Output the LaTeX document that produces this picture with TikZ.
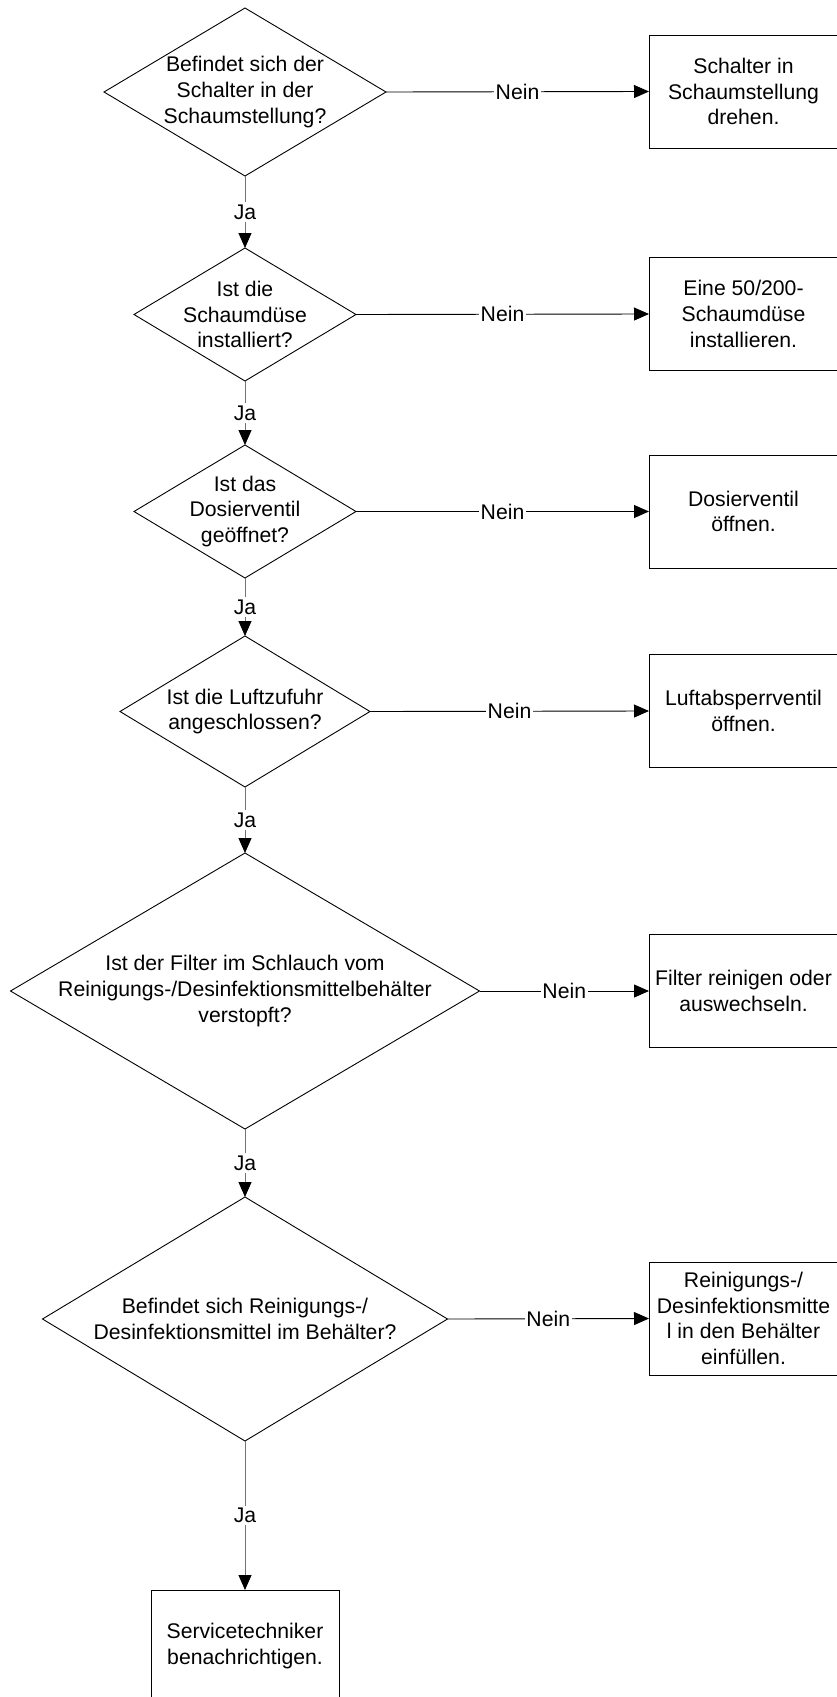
\documentclass[tikz,border=0pt]{standalone}
\usepackage{fontspec}
\setmainfont{Liberation Sans}
\usetikzlibrary{shapes.geometric,arrows.meta}

\begin{document}
\begin{tikzpicture}[x=1pt,y=-1pt,
  every node/.style={font=\fontsize{21.2pt}{25.8pt}\selectfont},
  decision/.style={diamond,draw=black,line width=0.9pt,inner sep=0pt,outer sep=0pt},
  qtext/.style={align=center,inner sep=0pt},
  action/.style={rectangle,draw=black,line width=0.9pt,align=center,inner sep=0pt,outer sep=0pt,
                 minimum width=189pt,minimum height=113pt},
  yesline/.style={draw=black!55,line width=0.9pt,-{Triangle[length=15pt,width=13pt,color=black]}},
  noline/.style={draw=black,line width=0.9pt,-{Triangle[length=15pt,width=13pt,color=black]}},
  yeslbl/.style={fill=white,inner xsep=1pt,inner ysep=2.5pt},
  nolbl/.style={fill=white,inner xsep=1.5pt,inner ysep=1pt}]

\useasboundingbox (0,0) rectangle (837,1697);

% decision diamonds
\node[decision,minimum width=282pt,minimum height=168pt] (d1) at (245,92) {};
\node[qtext] (q1) at (d1) {Befindet sich der\\Schalter in der\\Schaumstellung?};

\node[decision,minimum width=222pt,minimum height=133pt] (d2) at (245,314.5) {};
\node[qtext] (q2) at (d2) {Ist die\\Schaumdüse\\installiert?};

\node[decision,minimum width=222pt,minimum height=133pt] (d3) at (245,511.5) {};
\node[qtext] (q3) at (d3) {Ist das\\Dosierventil\\geöffnet?};

\node[decision,minimum width=250pt,minimum height=151pt] (d4) at (245,711.5) {};
\node[qtext] (q4) at (d4) {Ist die Luftzufuhr\\angeschlossen?};

\node[decision,minimum width=469pt,minimum height=276pt] (d5) at (245,991) {};
\node[qtext] (q5) at (d5) {Ist der Filter im Schlauch vom\\Reinigungs-/Desinfektionsmittelbehälter\\verstopft?};

\node[decision,minimum width=405pt,minimum height=244pt] (d6) at (245,1319) {};
\node[qtext] (q6) at (d6) {Befindet sich Reinigungs-/\\Desinfektionsmittel im Behälter?};

% action boxes
\node[action] (b1) at (743.5,91.5) {Schalter in\\Schaumstellung\\drehen.};
\node[action] (b2) at (743.5,314) {Eine 50/200-\\Schaumdüse\\installieren.};
\node[action] (b3) at (743.5,511.5) {Dosierventil\\öffnen.};
\node[action] (b4) at (743.5,711) {Luftabsperrventil\\öffnen.};
\node[action] (b5) at (743.5,991) {Filter reinigen oder\\auswechseln.};
\node[action] (b6) at (743.5,1318.5) {Reinigungs-/\\Desinfektionsmitte\\l in den Behälter\\einfüllen.};
\node[action,minimum width=188pt,minimum height=112pt] (b7) at (245,1646) {Servicetechniker\\benachrichtigen.};

% "Ja" connectors
\draw[yesline] (d1.south) -- node[yeslbl] (j1) {Ja} (d2.north);
\draw[yesline] (d2.south) -- node[yeslbl] (j2) {Ja} (d3.north);
\draw[yesline] (d3.south) -- node[yeslbl] (j3) {Ja} (d4.north);
\draw[yesline] (d4.south) -- node[yeslbl] (j4) {Ja} (d5.north);
\draw[yesline] (d5.south) -- node[yeslbl] (j5) {Ja} (d6.north);
\draw[yesline] (d6.south) -- node[yeslbl] (j6) {Ja} (b7.north);

% "Nein" connectors
\draw[noline] (d1.east) -- node[nolbl] (n1) {Nein} (b1.west);
\draw[noline] (d2.east) -- node[nolbl] (n2) {Nein} (b2.west);
\draw[noline] (d3.east) -- node[nolbl] (n3) {Nein} (b3.west);
\draw[noline] (d4.east) -- node[nolbl] (n4) {Nein} (b4.west);
\draw[noline] (d5.east) -- node[nolbl] (n5) {Nein} (b5.west);
\draw[noline] (d6.east) -- node[nolbl] (n6) {Nein} (b6.west);

\end{tikzpicture}
\end{document}
